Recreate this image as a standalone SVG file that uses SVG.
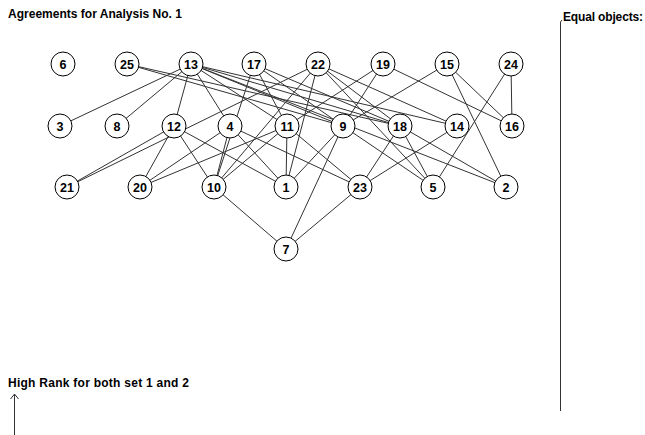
<svg xmlns="http://www.w3.org/2000/svg" width="645" height="435" viewBox="0 0 645 435">
  <style>
    .lbl { font-family: "Liberation Sans", Arial, sans-serif; font-weight: bold; font-size: 12px; fill: #000; }
    .num { font-family: "Liberation Sans", Arial, sans-serif; font-weight: bold; font-size: 12.5px; fill: #000; text-anchor: middle; }
    .node circle { fill: #fff; stroke: #000; stroke-width: 1; }
    #connectors line { stroke: #333; stroke-width: 1; }
    .rule { stroke: #333; stroke-width: 1; fill: none; }
  </style>
  <rect width="645" height="435" fill="#fff"/>

  <!-- headings and side rule -->
  <text class="lbl" x="8" y="18" textLength="174">Agreements for Analysis No. 1</text>
  <text class="lbl" x="563" y="21" textLength="80">Equal objects:</text>
  <path class="rule" d="M560.5 411 V22 L562 20"/>
  <text class="lbl" x="8" y="387" textLength="181">High Rank for both set 1 and 2</text>
  <path class="rule" d="M14.5 435 V394 M10.5 399 L14.5 394 L18.5 399"/>

  <g id="connectors">
    <!-- 25 -->
    <line x1="127" y1="64" x2="343" y2="126"/>
    <line x1="127" y1="64" x2="400" y2="126"/>
    <!-- 13 -->
    <line x1="191" y1="64" x2="60" y2="126"/>
    <line x1="191" y1="64" x2="117" y2="126"/>
    <line x1="191" y1="64" x2="174" y2="126"/>
    <line x1="191" y1="64" x2="230" y2="126"/>
    <line x1="191" y1="64" x2="287" y2="126"/>
    <line x1="191" y1="64" x2="343" y2="126"/>
    <line x1="191" y1="64" x2="400" y2="126"/>
    <line x1="191" y1="64" x2="457" y2="126"/>
    <line x1="191" y1="64" x2="506" y2="187"/>
    <!-- 17 -->
    <line x1="254" y1="64" x2="214" y2="187"/>
    <line x1="254" y1="64" x2="287" y2="126"/>
    <line x1="254" y1="64" x2="343" y2="126"/>
    <line x1="254" y1="64" x2="400" y2="126"/>
    <!-- 22 -->
    <line x1="318" y1="64" x2="67" y2="187"/>
    <line x1="318" y1="64" x2="214" y2="187"/>
    <line x1="318" y1="64" x2="286" y2="187"/>
    <line x1="318" y1="64" x2="400" y2="126"/>
    <line x1="318" y1="64" x2="457" y2="126"/>
    <line x1="318" y1="64" x2="433" y2="187"/>
    <!-- 19 -->
    <line x1="383" y1="64" x2="287" y2="126"/>
    <line x1="383" y1="64" x2="343" y2="126"/>
    <line x1="383" y1="64" x2="512" y2="126"/>
    <!-- 15 -->
    <line x1="447" y1="64" x2="343" y2="126"/>
    <line x1="447" y1="64" x2="512" y2="126"/>
    <line x1="447" y1="64" x2="506" y2="187"/>
    <!-- 24 -->
    <line x1="511" y1="64" x2="512" y2="126"/>
    <line x1="511" y1="64" x2="433" y2="187"/>
    <!-- 12 -->
    <line x1="174" y1="126" x2="67" y2="187"/>
    <line x1="174" y1="126" x2="140" y2="187"/>
    <line x1="174" y1="126" x2="214" y2="187"/>
    <line x1="174" y1="126" x2="286" y2="187"/>
    <!-- 4 -->
    <line x1="230" y1="126" x2="140" y2="187"/>
    <line x1="230" y1="126" x2="214" y2="187"/>
    <line x1="230" y1="126" x2="286" y2="187"/>
    <line x1="230" y1="126" x2="360" y2="187"/>
    <!-- 11 -->
    <line x1="287" y1="126" x2="140" y2="187"/>
    <line x1="287" y1="126" x2="214" y2="187"/>
    <line x1="287" y1="126" x2="286" y2="187"/>
    <line x1="287" y1="126" x2="360" y2="187"/>
    <!-- 9 -->
    <line x1="343" y1="126" x2="286" y2="187"/>
    <line x1="343" y1="126" x2="433" y2="187"/>
    <line x1="343" y1="126" x2="286" y2="249"/>
    <!-- 18 -->
    <line x1="400" y1="126" x2="360" y2="187"/>
    <line x1="400" y1="126" x2="433" y2="187"/>
    <line x1="400" y1="126" x2="506" y2="187"/>
    <!-- 14 -->
    <line x1="457" y1="126" x2="360" y2="187"/>
    <!-- lowest level -->
    <line x1="214" y1="187" x2="286" y2="249"/>
    <line x1="360" y1="187" x2="286" y2="249"/>
  </g>

  <g id="n6" class="node"><circle cx="63" cy="64" r="12"/><text class="num" x="63" y="68.5">6</text></g>
  <g id="n25" class="node"><circle cx="127" cy="64" r="12"/><text class="num" x="127" y="68.5">25</text></g>
  <g id="n13" class="node"><circle cx="191" cy="64" r="12"/><text class="num" x="191" y="68.5">13</text></g>
  <g id="n17" class="node"><circle cx="254" cy="64" r="12"/><text class="num" x="254" y="68.5">17</text></g>
  <g id="n22" class="node"><circle cx="318" cy="64" r="12"/><text class="num" x="318" y="68.5">22</text></g>
  <g id="n19" class="node"><circle cx="383" cy="64" r="12"/><text class="num" x="383" y="68.5">19</text></g>
  <g id="n15" class="node"><circle cx="447" cy="64" r="12"/><text class="num" x="447" y="68.5">15</text></g>
  <g id="n24" class="node"><circle cx="511" cy="64" r="12"/><text class="num" x="511" y="68.5">24</text></g>

  <g id="n3" class="node"><circle cx="60" cy="126" r="12"/><text class="num" x="60" y="130.5">3</text></g>
  <g id="n8" class="node"><circle cx="117" cy="126" r="12"/><text class="num" x="117" y="130.5">8</text></g>
  <g id="n12" class="node"><circle cx="174" cy="126" r="12"/><text class="num" x="174" y="130.5">12</text></g>
  <g id="n4" class="node"><circle cx="230" cy="126" r="12"/><text class="num" x="230" y="130.5">4</text></g>
  <g id="n11" class="node"><circle cx="287" cy="126" r="12"/><text class="num" x="287" y="130.5">11</text></g>
  <g id="n9" class="node"><circle cx="343" cy="126" r="12"/><text class="num" x="343" y="130.5">9</text></g>
  <g id="n18" class="node"><circle cx="400" cy="126" r="12"/><text class="num" x="400" y="130.5">18</text></g>
  <g id="n14" class="node"><circle cx="457" cy="126" r="12"/><text class="num" x="457" y="130.5">14</text></g>
  <g id="n16" class="node"><circle cx="512" cy="126" r="12"/><text class="num" x="512" y="130.5">16</text></g>

  <g id="n21" class="node"><circle cx="67" cy="187" r="12"/><text class="num" x="67" y="191.5">21</text></g>
  <g id="n20" class="node"><circle cx="140" cy="187" r="12"/><text class="num" x="140" y="191.5">20</text></g>
  <g id="n10" class="node"><circle cx="214" cy="187" r="12"/><text class="num" x="214" y="191.5">10</text></g>
  <g id="n1" class="node"><circle cx="286" cy="187" r="12"/><text class="num" x="286" y="191.5">1</text></g>
  <g id="n23" class="node"><circle cx="360" cy="187" r="12"/><text class="num" x="360" y="191.5">23</text></g>
  <g id="n5" class="node"><circle cx="433" cy="187" r="12"/><text class="num" x="433" y="191.5">5</text></g>
  <g id="n2" class="node"><circle cx="506" cy="187" r="12"/><text class="num" x="506" y="191.5">2</text></g>

  <g id="n7" class="node"><circle cx="286" cy="249" r="12"/><text class="num" x="286" y="253.5">7</text></g>
</svg>
